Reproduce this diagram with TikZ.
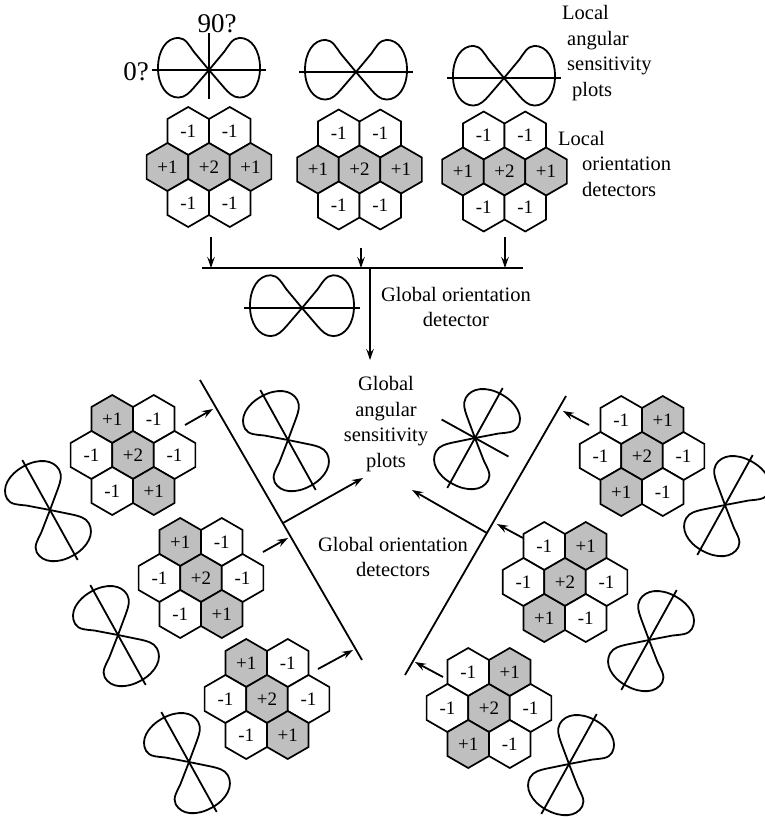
\documentclass[tikz,border=0pt]{standalone}
\usepackage{fontspec}
\setmainfont{Liberation Serif}
\usetikzlibrary{shapes.geometric,arrows.meta}

\tikzset{
  hexcell/.style={regular polygon, regular polygon sides=6, shape border rotate=30,
    minimum size=48pt, inner sep=0pt, outer sep=0pt, draw, line width=1.7pt,
    font=\fontsize{19}{19}\selectfont, fill=white},
  poscell/.style={hexcell, fill=black!25},
  negcell/.style={hexcell},
  txt/.style={font=\fontsize{20.5}{25.5}\selectfont, inner sep=0pt},
  bigtxt/.style={font=\fontsize{27}{27}\selectfont, inner sep=0pt},
  plotline/.style={line width=1.8pt, line join=round},
  barline/.style={line width=1.8pt},
  link/.style={line width=1.8pt, -{Stealth[length=11pt,width=7.5pt,inset=4pt]}},
}

% one cell of a detector: p = excitatory (+1, grey), n = inhibitory (-1, white)
\newcommand\hexcell[3]{%
  \if#3p\node[poscell] (#1) at #2 {+1};\else\node[negcell] (#1) at #2 {-1};\fi}

% seven-cell detector centred at (#2,#3); #4..#9 = tl, tr, ml, mr, bl, br
\newcommand\hexflower[9]{%
  \begin{scope}[shift={(#2,#3)}]
    \hexcell{#1-tl}{(-20.78,36)}{#4}
    \hexcell{#1-tr}{(20.78,36)}{#5}
    \hexcell{#1-ml}{(-41.57,0)}{#6}
    \node[poscell] (#1-c) at (0,0) {+2};
    \hexcell{#1-mr}{(41.57,0)}{#7}
    \hexcell{#1-bl}{(-20.78,-36)}{#8}
    \hexcell{#1-br}{(20.78,-36)}{#9}
  \end{scope}}

% one lobe of a sensitivity plot, pointing along +x, length 1
\newcommand\lobe{%
  (0,0) -- (0.3,0.36)
  .. controls (0.38,0.47) and (0.46,0.63) .. (0.6,0.63)
  .. controls (0.84,0.63) and (1,0.38) .. (1,0.04)
  .. controls (1,-0.3) and (0.83,-0.54) .. (0.6,-0.54)
  .. controls (0.47,-0.54) and (0.38,-0.44) .. (0.3,-0.35) -- cycle}

% figure-eight angular sensitivity plot with its axis; #2 position, #3 transform,
% #1 extra drawing in the plot's own frame
\newcommand\figeight[3][]{%
  \begin{scope}[shift={#2}, #3]
    \draw[plotline] \lobe;
    \draw[plotline, xscale=-1] \lobe;
    \draw[plotline] (-1.12,0) -- (1.12,0);
    #1
  \end{scope}}

\begin{document}
\begin{tikzpicture}[x=1pt,y=1pt]
\useasboundingbox (0,0) rectangle (764,-817);

% ---------- local stage ----------
\figeight[{\draw[plotline] (0,0.72) -- (0,-0.56);}]{(209,-70)}{scale=51}
\node[bigtxt] (deg90) at (217,-24) {90?};
\node[bigtxt] (deg0) at (136,-72) {0?};
\figeight{(356,-72)}{scale=51}
\figeight{(504,-78)}{scale=51}

\hexflower{la}{209}{-167}{n}{n}{p}{p}{n}{n}
\hexflower{lb}{359.5}{-169.5}{n}{n}{p}{p}{n}{n}
\hexflower{lc}{504.5}{-171.5}{n}{n}{p}{p}{n}{n}

\node[txt, anchor=west, align=left] (lasp) at (562,-53)
  {Local\\\hspace*{5pt}angular\\\hspace*{5pt}sensitivity\\\hspace*{10pt}plots};
\node[txt, anchor=west, align=left] (lod) at (558,-163.5)
  {Local\\\hspace*{24pt}orientation\\\hspace*{24pt}detectors};

% pooling into the global detector
\coordinate (la-out) at (211,-237);
\coordinate (lb-out) at (361,-248);
\coordinate (lc-out) at (505,-237);
\coordinate (busW) at (202,-268);
\coordinate (busE) at (523,-268);
\coordinate (la-in) at (211,-268);
\coordinate (lb-in) at (361,-268);
\coordinate (lc-in) at (505,-268);
\coordinate (bus-out) at (370,-268);
\coordinate (god-in) at (370,-360);
\draw[barline] (busW) -- (busE);
\draw[link] (la-out) -- (la-in);
\draw[link] (lb-out) -- (lb-in);
\draw[link] (lc-out) -- (lc-in);
\draw[link] (bus-out) -- (god-in);

\figeight{(302,-308)}{scale=52}
\node[txt, align=center] (god) at (456,-307) {Global orientation\\detector};

% ---------- global stage ----------
\node[txt, align=center] (gasp) at (386,-424) {Global\\angular\\sensitivity\\plots};
\node[txt, align=center] (gods) at (393,-557) {Global orientation\\detectors};

\coordinate (barL-top) at (200,-380);
\coordinate (barL-bot) at (362,-660);
\coordinate (barR-top) at (566,-396);
\coordinate (barR-bot) at (405,-675);
\draw[barline] (barL-top) -- (barL-bot);
\draw[barline] (barR-top) -- (barR-bot);

\coordinate (brL) at (283,-523);
\coordinate (brL-end) at (363,-478);
\coordinate (brR) at (487,-533);
\coordinate (brR-end) at (412,-490);
\draw[link] (brL) -- (brL-end);
\draw[link] (brR) -- (brR-end);

% left-hand detectors (tilted one way)
\hexflower{ga}{133}{-455}{p}{n}{n}{n}{n}{p}
\hexflower{gb}{201}{-578}{p}{n}{n}{n}{n}{p}
\hexflower{gc}{267}{-699}{p}{n}{n}{n}{n}{p}
% right-hand detectors (tilted the other way)
\hexflower{gd}{642}{-456}{n}{p}{n}{n}{p}{n}
\hexflower{ge}{565}{-582}{n}{p}{n}{n}{p}{n}
\hexflower{gf}{489}{-708}{n}{p}{n}{n}{p}{n}

\coordinate (ga-out) at (185,-425); \coordinate (ga-in) at (213,-409);
\coordinate (gb-out) at (263,-552); \coordinate (gb-in) at (288,-538);
\coordinate (gc-out) at (318,-669); \coordinate (gc-in) at (353,-650);
\coordinate (gd-out) at (589,-425); \coordinate (gd-in) at (563,-411);
\coordinate (ge-out) at (523,-538); \coordinate (ge-in) at (497,-524);
\coordinate (gf-out) at (443,-677); \coordinate (gf-in) at (415,-662);
\draw[link] (ga-out) -- (ga-in);
\draw[link] (gb-out) -- (gb-in);
\draw[link] (gc-out) -- (gc-in);
\draw[link] (gd-out) -- (gd-in);
\draw[link] (ge-out) -- (ge-in);
\draw[link] (gf-out) -- (gf-in);

% angular sensitivity plots of the tilted detectors
\figeight{(50,-510)}{rotate=119,scale=51}
\figeight{(118,-635)}{rotate=119,scale=51}
\figeight{(189,-762)}{rotate=119,scale=51}
\figeight{(288,-440)}{rotate=119,scale=51}
\figeight[{\draw[plotline] (0,-0.75) -- (0,0.75);}]{(475,-438)}{rotate=61,yscale=-1,scale=51}
\figeight{(725,-505)}{rotate=61,yscale=-1,scale=51}
\figeight{(649,-640)}{rotate=61,yscale=-1,scale=51}
\figeight{(569,-764)}{rotate=61,yscale=-1,scale=51}
\end{tikzpicture}
\end{document}
